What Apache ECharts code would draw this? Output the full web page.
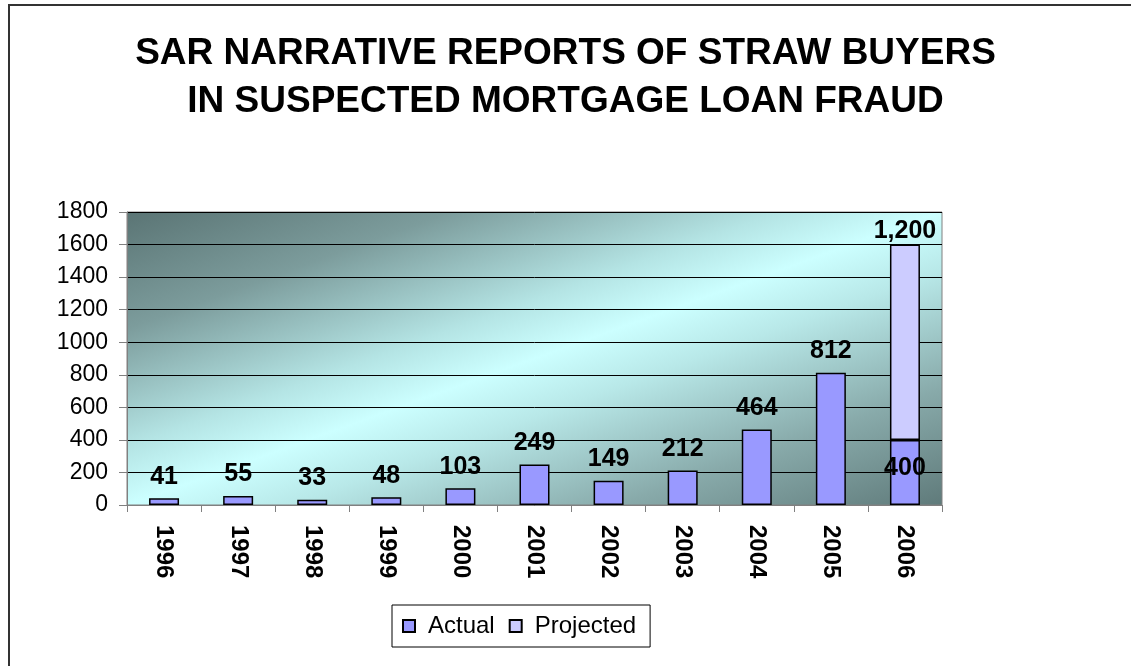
<!DOCTYPE html>
<html>
<head>
<meta charset="utf-8">
<title>SAR narrative reports of straw buyers</title>
<script src="https://cdn.jsdelivr.net/npm/echarts@6/dist/echarts.min.js"></script>
<style>
  html, body { margin: 0; padding: 0; background: #fff; }
  #main { width: 1131px; height: 666px; }
</style>
</head>
<body>
<div id="main"></div>
<script>
// data
var years = ['1996', '1997', '1998', '1999', '2000', '2001', '2002', '2003', '2004', '2005', '2006'];
var actual = [41, 55, 33, 48, 103, 249, 149, 212, 464, 812, 400];
var projected = [null, null, null, null, null, null, null, null, null, null, 1200];
var yTicks = [0, 200, 400, 600, 800, 1000, 1200, 1400, 1600, 1800];

var chart = echarts.init(document.getElementById('main'));

var labelFont = {
    fontFamily: 'Liberation Sans, Arial, sans-serif',
    fontWeight: 'bold',
    fontSize: 25,
    color: '#000'
};

// last actual bar has its label inside, under the top edge
var actualData = actual.map(function (v, i) {
    if (i === actual.length - 1) {
        return { value: v, label: { position: 'insideTop', distance: 16 } };
    }
    return v;
});

var option = {
    animation: false,
    backgroundColor: '#fff',
    title: {
        text: 'SAR NARRATIVE REPORTS OF STRAW BUYERS\nIN SUSPECTED MORTGAGE LOAN FRAUD',
        left: 'center',
        top: 25,
        textStyle: {
            fontFamily: 'Liberation Sans, Arial, sans-serif',
            fontWeight: 'bold',
            fontSize: 37,
            lineHeight: 48,
            color: '#000'
        }
    },
    graphic: [{ // outer frame
        type: 'rect',
        shape: { x: 9, y: 5, width: 1200, height: 800 },
        style: { fill: 'none', stroke: '#333', lineWidth: 2 },
        silent: true
    }],
    legend: {
        left: 392,
        top: 605,
        data: ['Actual', 'Projected'],
        icon: 'rect',
        itemWidth: 12,
        itemHeight: 12,
        itemGap: 14,
        padding: [9, 14, 9, 10],
        borderColor: '#000',
        borderWidth: 1,
        backgroundColor: '#fff',
        textStyle: {
            fontFamily: 'Liberation Sans, Arial, sans-serif',
            fontSize: 24,
            color: '#000',
            padding: [0, 0, 0, 8]
        }
    },
    grid: {
        left: 127,
        right: 189,
        top: 212,
        bottom: 161,
        show: true,
        borderColor: '#808080',
        borderWidth: 1,
        backgroundColor: {
            type: 'linear',
            x: 0.385, y: -0.386, x2: 0.615, y2: 1.386,
            colorStops: [
                { offset: 0, color: '#5a7474' },
                { offset: 0.2, color: '#7c9c9c' },
                { offset: 0.4, color: '#b4e4e4' },
                { offset: 0.5, color: '#ccffff' },
                { offset: 0.6, color: '#b8e8e8' },
                { offset: 0.8, color: '#88aaaa' },
                { offset: 1, color: '#5f7a7a' }
            ]
        }
    },
    xAxis: {
        type: 'category',
        data: years,
        axisLine: { lineStyle: { color: '#808080', width: 1 } },
        axisTick: { show: true, length: 7, lineStyle: { color: '#808080' } },
        axisLabel: {
            rotate: -90,
            margin: 20,
            fontFamily: 'Liberation Sans, Arial, sans-serif',
            fontWeight: 'bold',
            fontSize: 24,
            color: '#000'
        }
    },
    yAxis: {
        type: 'value',
        min: yTicks[0],
        max: yTicks[yTicks.length - 1],
        interval: 200,
        axisLine: { show: true, lineStyle: { color: '#808080', width: 1 } },
        axisTick: { show: true, length: 8, lineStyle: { color: '#808080' } },
        splitLine: { lineStyle: { color: '#000', width: 1 } },
        axisLabel: {
            margin: 19,
            formatter: function (v) { return String(v); },
            fontFamily: 'Liberation Sans, Arial, sans-serif',
            fontSize: 23,
            color: '#000'
        }
    },
    series: [{
        name: 'Actual',
        type: 'bar',
        stack: 'total',
        barWidth: 30,
        data: actualData,
        itemStyle: { color: '#9999ff', borderColor: '#000', borderWidth: 1.5 },
        label: Object.assign({ show: true, position: 'top', distance: 9 }, labelFont)
    }, {
        name: 'Projected',
        type: 'bar',
        stack: 'total',
        barWidth: 30,
        data: projected,
        itemStyle: { color: '#ccccff', borderColor: '#000', borderWidth: 1.5 },
        label: Object.assign({
            show: true,
            position: 'top',
            distance: 1,
            formatter: function (p) {
                return p.value == null ? '' : p.value.toLocaleString('en-US');
            }
        }, labelFont)
    }]
};

chart.setOption(option);
</script>
</body>
</html>
